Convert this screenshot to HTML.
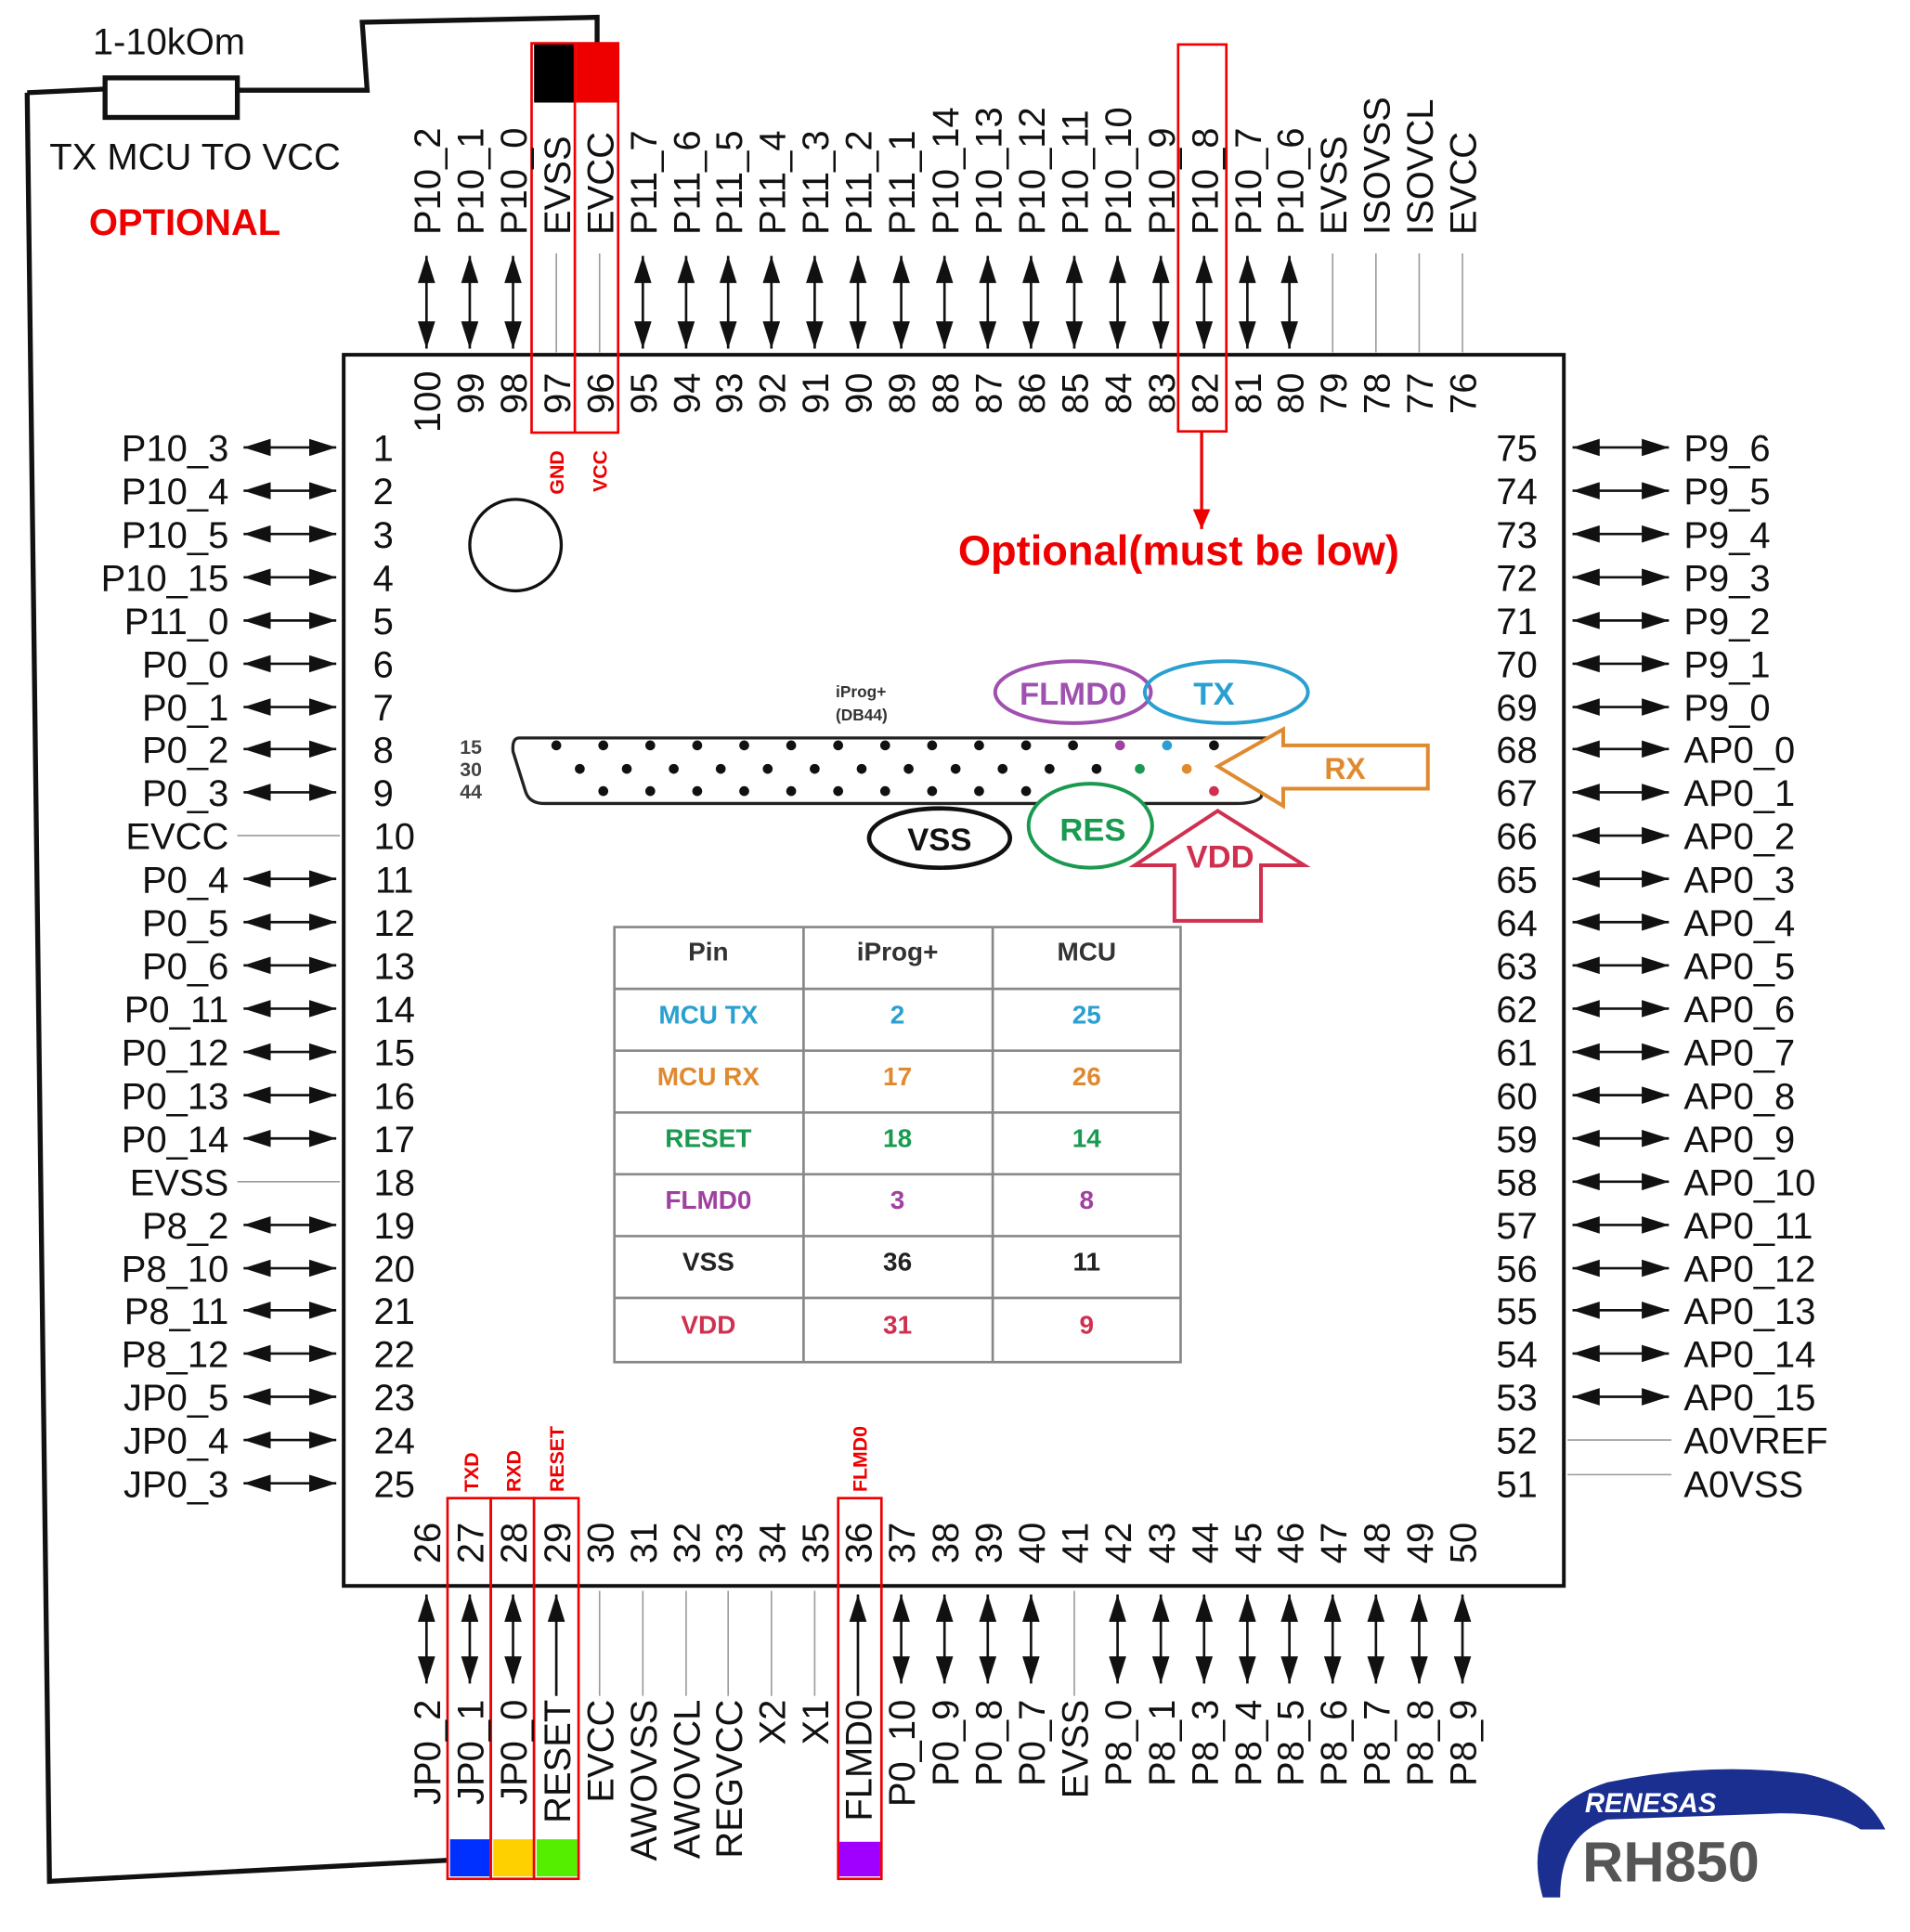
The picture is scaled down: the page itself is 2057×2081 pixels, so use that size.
<!DOCTYPE html>
<html><head><meta charset="utf-8"><style>
html,body{margin:0;padding:0;background:#fff}
svg{display:block}
text{font-family:"Liberation Sans",sans-serif}
.l{font-size:30px;fill:#111}
.n{font-size:30px;fill:#111}
.ar{stroke:#111;stroke-width:2;marker-start:url(#h);marker-end:url(#h)}
.up{stroke:#111;stroke-width:2;marker-start:url(#h)}
.ln{stroke:#999;stroke-width:1.2}
.rb{fill:none;stroke:#e00;stroke-width:2}
.tb{font-size:21px;font-weight:bold;text-anchor:middle}
</style></head><body>
<svg width="2057" height="2081" viewBox="0 0 1545 1563" preserveAspectRatio="none" xmlns="http://www.w3.org/2000/svg">
<defs>
<marker id="h" markerUnits="userSpaceOnUse" markerWidth="22" markerHeight="14" refX="22" refY="7" orient="auto-start-reverse"><path d="M0,0 L22,7 L0,14 z" fill="#111"/></marker>
<marker id="r" markerUnits="userSpaceOnUse" markerWidth="16" markerHeight="14" refX="16" refY="7" orient="auto"><path d="M0,0 L16,7 L0,14 z" fill="#e00"/></marker>
</defs>
<rect width="1545" height="1563" fill="#fff"/>
<!-- wire -->
<polyline points="22,75 85,72" fill="none" stroke="#111" stroke-width="4"/>
<rect x="85" y="63" width="107" height="32" fill="none" stroke="#111" stroke-width="4"/>
<polyline points="192,73 297,73 293,18 483,14 483,35" fill="none" stroke="#111" stroke-width="4"/>
<polyline points="22,75 40,1522 362,1505" fill="none" stroke="#111" stroke-width="4"/>
<text x="75" y="44" class="l">1-10kOm</text>
<text x="40" y="137" class="l">TX MCU TO VCC</text>
<text x="72" y="190" style="font-size:30px;font-weight:bold;fill:#e00">OPTIONAL</text>
<!-- chip -->
<rect x="278" y="287" width="987" height="996" fill="none" stroke="#111" stroke-width="3"/>
<circle cx="417" cy="441" r="37" fill="none" stroke="#111" stroke-width="2.5"/>
<!-- top color boxes -->
<rect x="432" y="35" width="33" height="48" fill="#000"/>
<rect x="466" y="35" width="34" height="48" fill="#e00"/>
<rect x="430" y="35" width="70" height="315" class="rb"/>
<line x1="465" y1="35" x2="465" y2="350" stroke="#e00" stroke-width="2"/>
<rect x="953" y="36" width="39" height="313" class="rb"/>
<line x1="972" y1="350" x2="972" y2="428" stroke="#e00" stroke-width="2.5" marker-end="url(#r)"/>
<text x="775" y="457" style="font-size:34px;font-weight:bold;fill:#e00">Optional(must be low)</text>
<text transform="translate(456,400) rotate(-90)" style="font-size:16px;font-weight:bold;fill:#e00">GND</text>
<text transform="translate(491,398) rotate(-90)" style="font-size:16px;font-weight:bold;fill:#e00">VCC</text>
<!-- top arrows -->
<g>
<line x1="345" y1="207" x2="345" y2="282" class="ar"/><line x1="380" y1="207" x2="380" y2="282" class="ar"/><line x1="415" y1="207" x2="415" y2="282" class="ar"/>
<line x1="450" y1="205" x2="450" y2="285" class="ln"/><line x1="485" y1="205" x2="485" y2="285" class="ln"/>
<line x1="520" y1="207" x2="520" y2="282" class="ar"/><line x1="555" y1="207" x2="555" y2="282" class="ar"/><line x1="589" y1="207" x2="589" y2="282" class="ar"/><line x1="624" y1="207" x2="624" y2="282" class="ar"/><line x1="659" y1="207" x2="659" y2="282" class="ar"/><line x1="694" y1="207" x2="694" y2="282" class="ar"/><line x1="729" y1="207" x2="729" y2="282" class="ar"/><line x1="764" y1="207" x2="764" y2="282" class="ar"/><line x1="799" y1="207" x2="799" y2="282" class="ar"/><line x1="834" y1="207" x2="834" y2="282" class="ar"/><line x1="869" y1="207" x2="869" y2="282" class="ar"/><line x1="904" y1="207" x2="904" y2="282" class="ar"/><line x1="939" y1="207" x2="939" y2="282" class="ar"/><line x1="974" y1="207" x2="974" y2="282" class="ar"/><line x1="1009" y1="207" x2="1009" y2="282" class="ar"/><line x1="1043" y1="207" x2="1043" y2="282" class="ar"/>
<line x1="1078" y1="205" x2="1078" y2="285" class="ln"/><line x1="1113" y1="205" x2="1113" y2="285" class="ln"/><line x1="1148" y1="205" x2="1148" y2="285" class="ln"/><line x1="1183" y1="205" x2="1183" y2="285" class="ln"/>
</g>
<!-- top labels -->
<g class="l">
<text transform="translate(356,190) rotate(-90)">P10_2</text><text transform="translate(391,190) rotate(-90)">P10_1</text><text transform="translate(426,190) rotate(-90)">P10_0</text><text transform="translate(461,190) rotate(-90)">EVSS</text><text transform="translate(496,190) rotate(-90)">EVCC</text><text transform="translate(531,190) rotate(-90)">P11_7</text><text transform="translate(566,190) rotate(-90)">P11_6</text><text transform="translate(600,190) rotate(-90)">P11_5</text><text transform="translate(635,190) rotate(-90)">P11_4</text><text transform="translate(670,190) rotate(-90)">P11_3</text><text transform="translate(705,190) rotate(-90)">P11_2</text><text transform="translate(740,190) rotate(-90)">P11_1</text><text transform="translate(775,190) rotate(-90)">P10_14</text><text transform="translate(810,190) rotate(-90)">P10_13</text><text transform="translate(845,190) rotate(-90)">P10_12</text><text transform="translate(880,190) rotate(-90)">P10_11</text><text transform="translate(915,190) rotate(-90)">P10_10</text><text transform="translate(950,190) rotate(-90)">P10_9</text><text transform="translate(985,190) rotate(-90)">P10_8</text><text transform="translate(1020,190) rotate(-90)">P10_7</text><text transform="translate(1054,190) rotate(-90)">P10_6</text><text transform="translate(1089,190) rotate(-90)">EVSS</text><text transform="translate(1124,190) rotate(-90)">ISOVSS</text><text transform="translate(1159,190) rotate(-90)">ISOVCL</text><text transform="translate(1194,190) rotate(-90)">EVCC</text>
</g>
<!-- top numbers -->
<g class="n">
<text transform="translate(356,350) rotate(-90)">100</text><text transform="translate(391,335) rotate(-90)">99</text><text transform="translate(426,335) rotate(-90)">98</text><text transform="translate(461,335) rotate(-90)">97</text><text transform="translate(496,335) rotate(-90)">96</text><text transform="translate(531,335) rotate(-90)">95</text><text transform="translate(566,335) rotate(-90)">94</text><text transform="translate(600,335) rotate(-90)">93</text><text transform="translate(635,335) rotate(-90)">92</text><text transform="translate(670,335) rotate(-90)">91</text><text transform="translate(705,335) rotate(-90)">90</text><text transform="translate(740,335) rotate(-90)">89</text><text transform="translate(775,335) rotate(-90)">88</text><text transform="translate(810,335) rotate(-90)">87</text><text transform="translate(845,335) rotate(-90)">86</text><text transform="translate(880,335) rotate(-90)">85</text><text transform="translate(915,335) rotate(-90)">84</text><text transform="translate(950,335) rotate(-90)">83</text><text transform="translate(985,335) rotate(-90)">82</text><text transform="translate(1020,335) rotate(-90)">81</text><text transform="translate(1054,335) rotate(-90)">80</text><text transform="translate(1089,335) rotate(-90)">79</text><text transform="translate(1124,335) rotate(-90)">78</text><text transform="translate(1159,335) rotate(-90)">77</text><text transform="translate(1194,335) rotate(-90)">76</text>
</g>
<!-- left -->
<g>
<line x1="197" y1="362" x2="272" y2="362" class="ar"/><line x1="197" y1="397" x2="272" y2="397" class="ar"/><line x1="197" y1="432" x2="272" y2="432" class="ar"/><line x1="197" y1="467" x2="272" y2="467" class="ar"/><line x1="197" y1="502" x2="272" y2="502" class="ar"/><line x1="197" y1="537" x2="272" y2="537" class="ar"/><line x1="197" y1="572" x2="272" y2="572" class="ar"/><line x1="197" y1="606" x2="272" y2="606" class="ar"/><line x1="197" y1="641" x2="272" y2="641" class="ar"/>
<line x1="192" y1="676" x2="275" y2="676" class="ln"/>
<line x1="197" y1="711" x2="272" y2="711" class="ar"/><line x1="197" y1="746" x2="272" y2="746" class="ar"/><line x1="197" y1="781" x2="272" y2="781" class="ar"/><line x1="197" y1="816" x2="272" y2="816" class="ar"/><line x1="197" y1="851" x2="272" y2="851" class="ar"/><line x1="197" y1="886" x2="272" y2="886" class="ar"/><line x1="197" y1="921" x2="272" y2="921" class="ar"/>
<line x1="192" y1="956" x2="275" y2="956" class="ln"/>
<line x1="197" y1="991" x2="272" y2="991" class="ar"/><line x1="197" y1="1026" x2="272" y2="1026" class="ar"/><line x1="197" y1="1060" x2="272" y2="1060" class="ar"/><line x1="197" y1="1095" x2="272" y2="1095" class="ar"/><line x1="197" y1="1130" x2="272" y2="1130" class="ar"/><line x1="197" y1="1165" x2="272" y2="1165" class="ar"/><line x1="197" y1="1200" x2="272" y2="1200" class="ar"/>
</g>
<g class="l" text-anchor="end">
<text x="185" y="373">P10_3</text><text x="185" y="408">P10_4</text><text x="185" y="443">P10_5</text><text x="185" y="478">P10_15</text><text x="185" y="513">P11_0</text><text x="185" y="548">P0_0</text><text x="185" y="583">P0_1</text><text x="185" y="617">P0_2</text><text x="185" y="652">P0_3</text><text x="185" y="687">EVCC</text><text x="185" y="722">P0_4</text><text x="185" y="757">P0_5</text><text x="185" y="792">P0_6</text><text x="185" y="827">P0_11</text><text x="185" y="862">P0_12</text><text x="185" y="897">P0_13</text><text x="185" y="932">P0_14</text><text x="185" y="967">EVSS</text><text x="185" y="1002">P8_2</text><text x="185" y="1037">P8_10</text><text x="185" y="1071">P8_11</text><text x="185" y="1106">P8_12</text><text x="185" y="1141">JP0_5</text><text x="185" y="1176">JP0_4</text><text x="185" y="1211">JP0_3</text>
</g>
<g class="n" text-anchor="middle">
<text x="310" y="373">1</text><text x="310" y="408">2</text><text x="310" y="443">3</text><text x="310" y="478">4</text><text x="310" y="513">5</text><text x="310" y="548">6</text><text x="310" y="583">7</text><text x="310" y="617">8</text><text x="310" y="652">9</text><text x="319" y="687">10</text><text x="319" y="722">11</text><text x="319" y="757">12</text><text x="319" y="792">13</text><text x="319" y="827">14</text><text x="319" y="862">15</text><text x="319" y="897">16</text><text x="319" y="932">17</text><text x="319" y="967">18</text><text x="319" y="1002">19</text><text x="319" y="1037">20</text><text x="319" y="1071">21</text><text x="319" y="1106">22</text><text x="319" y="1141">23</text><text x="319" y="1176">24</text><text x="319" y="1211">25</text>
</g>
<!-- right -->
<g>
<line x1="1272" y1="362" x2="1350" y2="362" class="ar"/><line x1="1272" y1="397" x2="1350" y2="397" class="ar"/><line x1="1272" y1="432" x2="1350" y2="432" class="ar"/><line x1="1272" y1="467" x2="1350" y2="467" class="ar"/><line x1="1272" y1="502" x2="1350" y2="502" class="ar"/><line x1="1272" y1="537" x2="1350" y2="537" class="ar"/><line x1="1272" y1="572" x2="1350" y2="572" class="ar"/><line x1="1272" y1="606" x2="1350" y2="606" class="ar"/><line x1="1272" y1="641" x2="1350" y2="641" class="ar"/><line x1="1272" y1="676" x2="1350" y2="676" class="ar"/><line x1="1272" y1="711" x2="1350" y2="711" class="ar"/><line x1="1272" y1="746" x2="1350" y2="746" class="ar"/><line x1="1272" y1="781" x2="1350" y2="781" class="ar"/><line x1="1272" y1="816" x2="1350" y2="816" class="ar"/><line x1="1272" y1="851" x2="1350" y2="851" class="ar"/><line x1="1272" y1="886" x2="1350" y2="886" class="ar"/><line x1="1272" y1="921" x2="1350" y2="921" class="ar"/><line x1="1272" y1="956" x2="1350" y2="956" class="ar"/><line x1="1272" y1="991" x2="1350" y2="991" class="ar"/><line x1="1272" y1="1026" x2="1350" y2="1026" class="ar"/><line x1="1272" y1="1060" x2="1350" y2="1060" class="ar"/><line x1="1272" y1="1095" x2="1350" y2="1095" class="ar"/><line x1="1272" y1="1130" x2="1350" y2="1130" class="ar"/>
<line x1="1268" y1="1165" x2="1352" y2="1165" class="ln"/><line x1="1268" y1="1193" x2="1352" y2="1193" class="ln"/>
</g>
<g class="l">
<text x="1362" y="373">P9_6</text><text x="1362" y="408">P9_5</text><text x="1362" y="443">P9_4</text><text x="1362" y="478">P9_3</text><text x="1362" y="513">P9_2</text><text x="1362" y="548">P9_1</text><text x="1362" y="583">P9_0</text><text x="1362" y="617">AP0_0</text><text x="1362" y="652">AP0_1</text><text x="1362" y="687">AP0_2</text><text x="1362" y="722">AP0_3</text><text x="1362" y="757">AP0_4</text><text x="1362" y="792">AP0_5</text><text x="1362" y="827">AP0_6</text><text x="1362" y="862">AP0_7</text><text x="1362" y="897">AP0_8</text><text x="1362" y="932">AP0_9</text><text x="1362" y="967">AP0_10</text><text x="1362" y="1002">AP0_11</text><text x="1362" y="1037">AP0_12</text><text x="1362" y="1071">AP0_13</text><text x="1362" y="1106">AP0_14</text><text x="1362" y="1141">AP0_15</text><text x="1362" y="1176">A0VREF</text><text x="1362" y="1211">A0VSS</text>
</g>
<g class="n" text-anchor="middle">
<text x="1227" y="373">75</text><text x="1227" y="408">74</text><text x="1227" y="443">73</text><text x="1227" y="478">72</text><text x="1227" y="513">71</text><text x="1227" y="548">70</text><text x="1227" y="583">69</text><text x="1227" y="617">68</text><text x="1227" y="652">67</text><text x="1227" y="687">66</text><text x="1227" y="722">65</text><text x="1227" y="757">64</text><text x="1227" y="792">63</text><text x="1227" y="827">62</text><text x="1227" y="862">61</text><text x="1227" y="897">60</text><text x="1227" y="932">59</text><text x="1227" y="967">58</text><text x="1227" y="1002">57</text><text x="1227" y="1037">56</text><text x="1227" y="1071">55</text><text x="1227" y="1106">54</text><text x="1227" y="1141">53</text><text x="1227" y="1176">52</text><text x="1227" y="1211">51</text>
</g>
<!-- bottom boxes -->
<rect x="364" y="1488" width="32" height="30" fill="#0030ff"/>
<rect x="399" y="1488" width="33" height="30" fill="#ffd000"/>
<rect x="434" y="1488" width="33" height="30" fill="#55ee00"/>
<rect x="679" y="1490" width="33" height="28" fill="#a000ff"/>
<rect x="362" y="1212" width="35" height="308" class="rb"/>
<rect x="397" y="1212" width="35" height="308" class="rb"/>
<rect x="432" y="1212" width="36" height="308" class="rb"/>
<rect x="678" y="1212" width="35" height="308" class="rb"/>
<g style="font-size:16px;font-weight:bold;fill:#e00">
<text transform="translate(387,1207) rotate(-90)">TXD</text>
<text transform="translate(421,1207) rotate(-90)">RXD</text>
<text transform="translate(456,1207) rotate(-90)">RESET</text>
<text transform="translate(701,1207) rotate(-90)">FLMD0</text>
</g>
<!-- bottom arrows -->
<g>
<line x1="345" y1="1290" x2="345" y2="1362" class="ar"/><line x1="380" y1="1290" x2="380" y2="1362" class="ar"/><line x1="415" y1="1290" x2="415" y2="1362" class="ar"/>
<line x1="450" y1="1290" x2="450" y2="1372" class="up"/>
<line x1="485" y1="1287" x2="485" y2="1372" class="ln"/><line x1="520" y1="1287" x2="520" y2="1372" class="ln"/><line x1="555" y1="1287" x2="555" y2="1372" class="ln"/><line x1="589" y1="1287" x2="589" y2="1372" class="ln"/><line x1="624" y1="1287" x2="624" y2="1372" class="ln"/><line x1="659" y1="1287" x2="659" y2="1372" class="ln"/>
<line x1="694" y1="1290" x2="694" y2="1372" class="up"/>
<line x1="729" y1="1290" x2="729" y2="1362" class="ar"/><line x1="764" y1="1290" x2="764" y2="1362" class="ar"/><line x1="799" y1="1290" x2="799" y2="1362" class="ar"/><line x1="834" y1="1290" x2="834" y2="1362" class="ar"/>
<line x1="869" y1="1287" x2="869" y2="1372" class="ln"/>
<line x1="904" y1="1290" x2="904" y2="1362" class="ar"/><line x1="939" y1="1290" x2="939" y2="1362" class="ar"/><line x1="974" y1="1290" x2="974" y2="1362" class="ar"/><line x1="1009" y1="1290" x2="1009" y2="1362" class="ar"/><line x1="1043" y1="1290" x2="1043" y2="1362" class="ar"/><line x1="1078" y1="1290" x2="1078" y2="1362" class="ar"/><line x1="1113" y1="1290" x2="1113" y2="1362" class="ar"/><line x1="1148" y1="1290" x2="1148" y2="1362" class="ar"/><line x1="1183" y1="1290" x2="1183" y2="1362" class="ar"/>
</g>
<g class="n">
<text transform="translate(356,1265) rotate(-90)">26</text><text transform="translate(391,1265) rotate(-90)">27</text><text transform="translate(426,1265) rotate(-90)">28</text><text transform="translate(461,1265) rotate(-90)">29</text><text transform="translate(496,1265) rotate(-90)">30</text><text transform="translate(531,1265) rotate(-90)">31</text><text transform="translate(566,1265) rotate(-90)">32</text><text transform="translate(600,1265) rotate(-90)">33</text><text transform="translate(635,1265) rotate(-90)">34</text><text transform="translate(670,1265) rotate(-90)">35</text><text transform="translate(705,1265) rotate(-90)">36</text><text transform="translate(740,1265) rotate(-90)">37</text><text transform="translate(775,1265) rotate(-90)">38</text><text transform="translate(810,1265) rotate(-90)">39</text><text transform="translate(845,1265) rotate(-90)">40</text><text transform="translate(880,1265) rotate(-90)">41</text><text transform="translate(915,1265) rotate(-90)">42</text><text transform="translate(950,1265) rotate(-90)">43</text><text transform="translate(985,1265) rotate(-90)">44</text><text transform="translate(1020,1265) rotate(-90)">45</text><text transform="translate(1054,1265) rotate(-90)">46</text><text transform="translate(1089,1265) rotate(-90)">47</text><text transform="translate(1124,1265) rotate(-90)">48</text><text transform="translate(1159,1265) rotate(-90)">49</text><text transform="translate(1194,1265) rotate(-90)">50</text>
</g>
<g class="l" text-anchor="end">
<text transform="translate(356,1375) rotate(-90)">JP0_2</text><text transform="translate(391,1375) rotate(-90)">JP0_1</text><text transform="translate(426,1375) rotate(-90)">JP0_0</text><text transform="translate(461,1375) rotate(-90)">RESET</text><text transform="translate(496,1375) rotate(-90)">EVCC</text><text transform="translate(531,1375) rotate(-90)">AWOVSS</text><text transform="translate(566,1375) rotate(-90)">AWOVCL</text><text transform="translate(600,1375) rotate(-90)">REGVCC</text><text transform="translate(635,1375) rotate(-90)">X2</text><text transform="translate(670,1375) rotate(-90)">X1</text><text transform="translate(705,1375) rotate(-90)">FLMD0</text><text transform="translate(740,1375) rotate(-90)">P0_10</text><text transform="translate(775,1375) rotate(-90)">P0_9</text><text transform="translate(810,1375) rotate(-90)">P0_8</text><text transform="translate(845,1375) rotate(-90)">P0_7</text><text transform="translate(880,1375) rotate(-90)">EVSS</text><text transform="translate(915,1375) rotate(-90)">P8_0</text><text transform="translate(950,1375) rotate(-90)">P8_1</text><text transform="translate(985,1375) rotate(-90)">P8_3</text><text transform="translate(1020,1375) rotate(-90)">P8_4</text><text transform="translate(1054,1375) rotate(-90)">P8_5</text><text transform="translate(1089,1375) rotate(-90)">P8_6</text><text transform="translate(1124,1375) rotate(-90)">P8_7</text><text transform="translate(1159,1375) rotate(-90)">P8_8</text><text transform="translate(1194,1375) rotate(-90)">P8_9</text>
</g>
<!-- connector -->
<text x="676" y="564" style="font-size:13px;font-weight:bold;fill:#333">iProg+</text>
<text x="676" y="583" style="font-size:13px;font-weight:bold;fill:#333">(DB44)</text>
<g style="font-size:16px;font-weight:bold;fill:#444"><text x="372" y="610">15</text><text x="372" y="628">30</text><text x="372" y="646">44</text></g>
<path d="M420,597 L1025,597 Q1035,600 1028,620 L1020,645 Q1015,650 1000,650 L440,650 Q428,650 425,640 L415,608 Q414,597 420,597 z" fill="none" stroke="#222" stroke-width="2.5"/>
<g fill="#111">
<circle cx="450" cy="603" r="4"/><circle cx="488" cy="603" r="4"/><circle cx="526" cy="603" r="4"/><circle cx="564" cy="603" r="4"/><circle cx="602" cy="603" r="4"/><circle cx="640" cy="603" r="4"/><circle cx="678" cy="603" r="4"/><circle cx="716" cy="603" r="4"/><circle cx="754" cy="603" r="4"/><circle cx="792" cy="603" r="4"/><circle cx="830" cy="603" r="4"/><circle cx="868" cy="603" r="4"/><circle cx="982" cy="603" r="4"/>
<circle cx="469" cy="622" r="4"/><circle cx="507" cy="622" r="4"/><circle cx="545" cy="622" r="4"/><circle cx="583" cy="622" r="4"/><circle cx="621" cy="622" r="4"/><circle cx="659" cy="622" r="4"/><circle cx="697" cy="622" r="4"/><circle cx="735" cy="622" r="4"/><circle cx="773" cy="622" r="4"/><circle cx="811" cy="622" r="4"/><circle cx="849" cy="622" r="4"/><circle cx="887" cy="622" r="4"/>
<circle cx="488" cy="640" r="4"/><circle cx="526" cy="640" r="4"/><circle cx="564" cy="640" r="4"/><circle cx="602" cy="640" r="4"/><circle cx="640" cy="640" r="4"/><circle cx="678" cy="640" r="4"/><circle cx="716" cy="640" r="4"/><circle cx="754" cy="640" r="4"/><circle cx="792" cy="640" r="4"/><circle cx="830" cy="640" r="4"/><circle cx="868" cy="640" r="4"/>
</g>
<circle cx="906" cy="603" r="4" fill="#a040a0"/><circle cx="944" cy="603" r="4" fill="#2aa0d0"/>
<circle cx="922" cy="622" r="4" fill="#1a9a50"/><circle cx="960" cy="622" r="4" fill="#e08a30"/><circle cx="982" cy="640" r="4" fill="#d03050"/>
<ellipse cx="868" cy="560" rx="63" ry="25" fill="#fff" stroke="#a050b0" stroke-width="3"/>
<text x="868" y="570" class="tb" style="font-size:26px;fill:#a050b0">FLMD0</text>
<ellipse cx="992" cy="560" rx="66" ry="25" fill="none" stroke="#2aa0d0" stroke-width="3"/>
<text x="982" y="570" class="tb" style="font-size:26px;fill:#2aa0d0">TX</text>
<path d="M985,620 L1038,590 L1038,603 L1155,603 L1155,638 L1038,638 L1038,652 z" fill="#fff" stroke="#e08a30" stroke-width="3"/>
<text x="1088" y="630" class="tb" style="font-size:24px;fill:#e08a30">RX</text>
<ellipse cx="760" cy="678" rx="57" ry="24" fill="#fff" stroke="#111" stroke-width="3.5"/>
<text x="760" y="688" class="tb" style="font-size:26px;fill:#111">VSS</text>
<ellipse cx="882" cy="668" rx="50" ry="34" fill="#fff" stroke="#1a9a50" stroke-width="3"/>
<text x="884" y="680" class="tb" style="font-size:26px;fill:#1a9a50">RES</text>
<path d="M985,656 L1055,700 L1020,700 L1020,745 L950,745 L950,700 L918,700 z" fill="#fff" stroke="#d03050" stroke-width="3"/>
<text x="987" y="702" class="tb" style="font-size:26px;fill:#d03050">VDD</text>
<!-- table -->
<g stroke="#888" stroke-width="2" fill="none">
<rect x="497" y="750" width="458" height="352"/>
<line x1="650" y1="750" x2="650" y2="1102"/><line x1="803" y1="750" x2="803" y2="1102"/>
<line x1="497" y1="800" x2="955" y2="800"/><line x1="497" y1="850" x2="955" y2="850"/><line x1="497" y1="900" x2="955" y2="900"/><line x1="497" y1="950" x2="955" y2="950"/><line x1="497" y1="1000" x2="955" y2="1000"/><line x1="497" y1="1050" x2="955" y2="1050"/>
</g>
<g class="tb">
<text x="573" y="777" fill="#333">Pin</text><text x="726" y="777" fill="#333">iProg+</text><text x="879" y="777" fill="#333">MCU</text>
<text x="573" y="828" fill="#2aa0d0">MCU TX</text><text x="726" y="828" fill="#2aa0d0">2</text><text x="879" y="828" fill="#2aa0d0">25</text>
<text x="573" y="878" fill="#e08a30">MCU RX</text><text x="726" y="878" fill="#e08a30">17</text><text x="879" y="878" fill="#e08a30">26</text>
<text x="573" y="928" fill="#1a9a50">RESET</text><text x="726" y="928" fill="#1a9a50">18</text><text x="879" y="928" fill="#1a9a50">14</text>
<text x="573" y="978" fill="#a040a0">FLMD0</text><text x="726" y="978" fill="#a040a0">3</text><text x="879" y="978" fill="#a040a0">8</text>
<text x="573" y="1028" fill="#222">VSS</text><text x="726" y="1028" fill="#222">36</text><text x="879" y="1028" fill="#222">11</text>
<text x="573" y="1079" fill="#d03050">VDD</text><text x="726" y="1079" fill="#d03050">31</text><text x="879" y="1079" fill="#d03050">9</text>
</g>
<!-- logo -->
<path d="M1248,1535 Q1228,1465 1300,1442 Q1380,1425 1460,1435 Q1508,1445 1525,1480 L1505,1480 Q1485,1467 1440,1467 L1300,1472 Q1262,1485 1262,1535 z" fill="#1a2f8f"/>
<text x="1282" y="1466" style="font-size:22px;font-weight:bold;fill:#fff;font-style:italic">RENESAS</text>
<text x="1280" y="1522" style="font-size:46px;font-weight:bold;fill:#555">RH850</text>
</svg>
</body></html>
